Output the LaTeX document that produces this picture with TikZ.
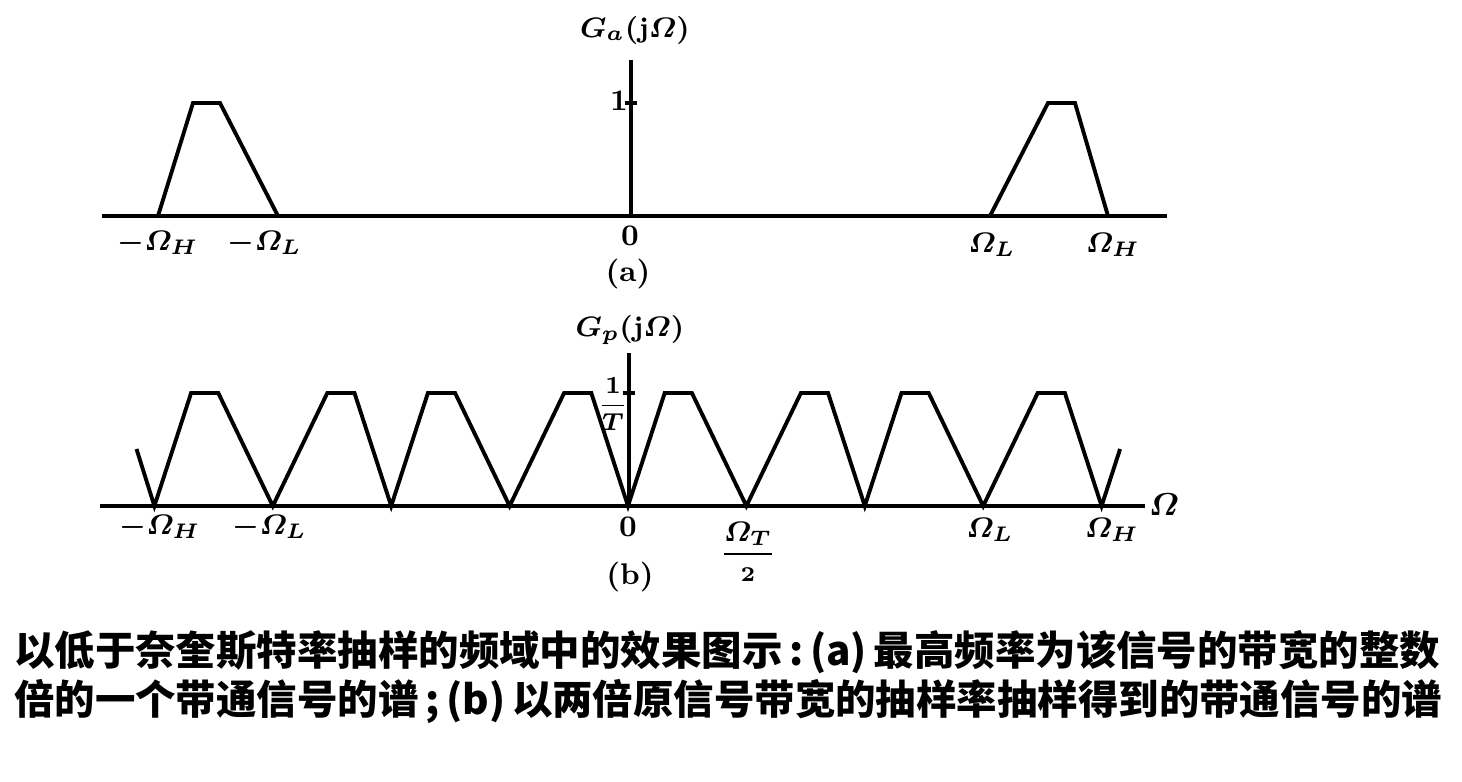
\documentclass[tikz,border=0pt]{standalone}
\usepackage{amsmath}
\usepackage{fontspec}
\newfontfamily\cjk{Noto Sans CJK SC}
\begin{document}
\begin{tikzpicture}[
      x=0.01cm, y=-0.01cm,
      axis/.style={line width=0.9pt},
      spec/.style={line width=1.1pt, line join=miter},
      caption/.style={anchor=west, font=\fontsize{11.5}{14}\selectfont\cjk\bfseries},
      every node/.style={inner sep=1pt, font=\fontsize{8.5}{10}\selectfont\bfseries\boldmath}
  ]
  \useasboundingbox (0,0) rectangle (1462,782);

  % (a) spectrum of the bandpass signal
  \begin{scope}
    \draw[axis] (102,216) -- (1167,216);
    \draw[axis] (631,216) -- (631,60);
    \draw[axis] (625,103) -- (637,103);
    \draw[spec] (158,216) -- (193,103) -- (220,103) -- (278,216);
    \draw[spec] (990,216) -- (1048,103) -- (1075,103) -- (1108,216);

    \node (ga)  at (635,30)  {$G_a(\mathbf{j}\varOmega)$};
    \node (one) at (619,101) {1};
    \node (a0)  at (630,236) {0};
    \node (amh) at (158,243) {$-\varOmega_H$};
    \node (aml) at (265,243) {$-\varOmega_L$};
    \node (al)  at (992,245) {$\varOmega_L$};
    \node (ah)  at (1113,245) {$\varOmega_H$};
    \node (capa) at (628,274) {(a)};
  \end{scope}

  % (b) spectrum after sampling
  \begin{scope}
    \draw[axis] (100,506) -- (1145,506);
    \draw[axis] (629,506) -- (629,353);
    \draw[axis] (623,393) -- (635,393);
    \draw[spec] (136.5,449) -- (154.4,506)
      \foreach \i in {1,...,4} {
        -- ++(36.7,-113) -- ++(27.2,0) -- ++(54.5,113)
        -- ++(54.5,-113) -- ++(27.2,0) -- ++(36.7,113)
      } -- ++(18.5,-57);

    \node (gp)  at (630,330) {$G_p(\mathbf{j}\varOmega)$};
    \node[font=\fontsize{7}{8}\selectfont\bfseries\boldmath] (invT) at (613,404) {$\displaystyle\frac{1}{T}$};
    \node (b0)  at (628,527) {0};
    \node (bmh) at (160,527) {$-\varOmega_H$};
    \node (bml) at (270,527) {$-\varOmega_L$};
    \node (bt)  at (748,552) {$\displaystyle\frac{\varOmega_T}{\scriptstyle 2}$};
    \node (bl)  at (990,530) {$\varOmega_L$};
    \node (bh)  at (1112,530) {$\varOmega_H$};
    \node[font=\fontsize{9.5}{11}\selectfont\boldmath] (om) at (1164,505) {$\varOmega$};
    \node (capb) at (630,577) {(b)};
  \end{scope}

  % caption
  \node[caption] (cap1) at (10,652)
    {以低于奈奎斯特率抽样的频域中的效果图示\,:\,(a)\,最高频率为该信号的带宽的整数};
  \node[caption] (cap2) at (10,702)
    {倍的一个带通信号的谱\,;\,(b)\,以两倍原信号带宽的抽样率抽样得到的带通信号的谱};
\end{tikzpicture}
\end{document}
